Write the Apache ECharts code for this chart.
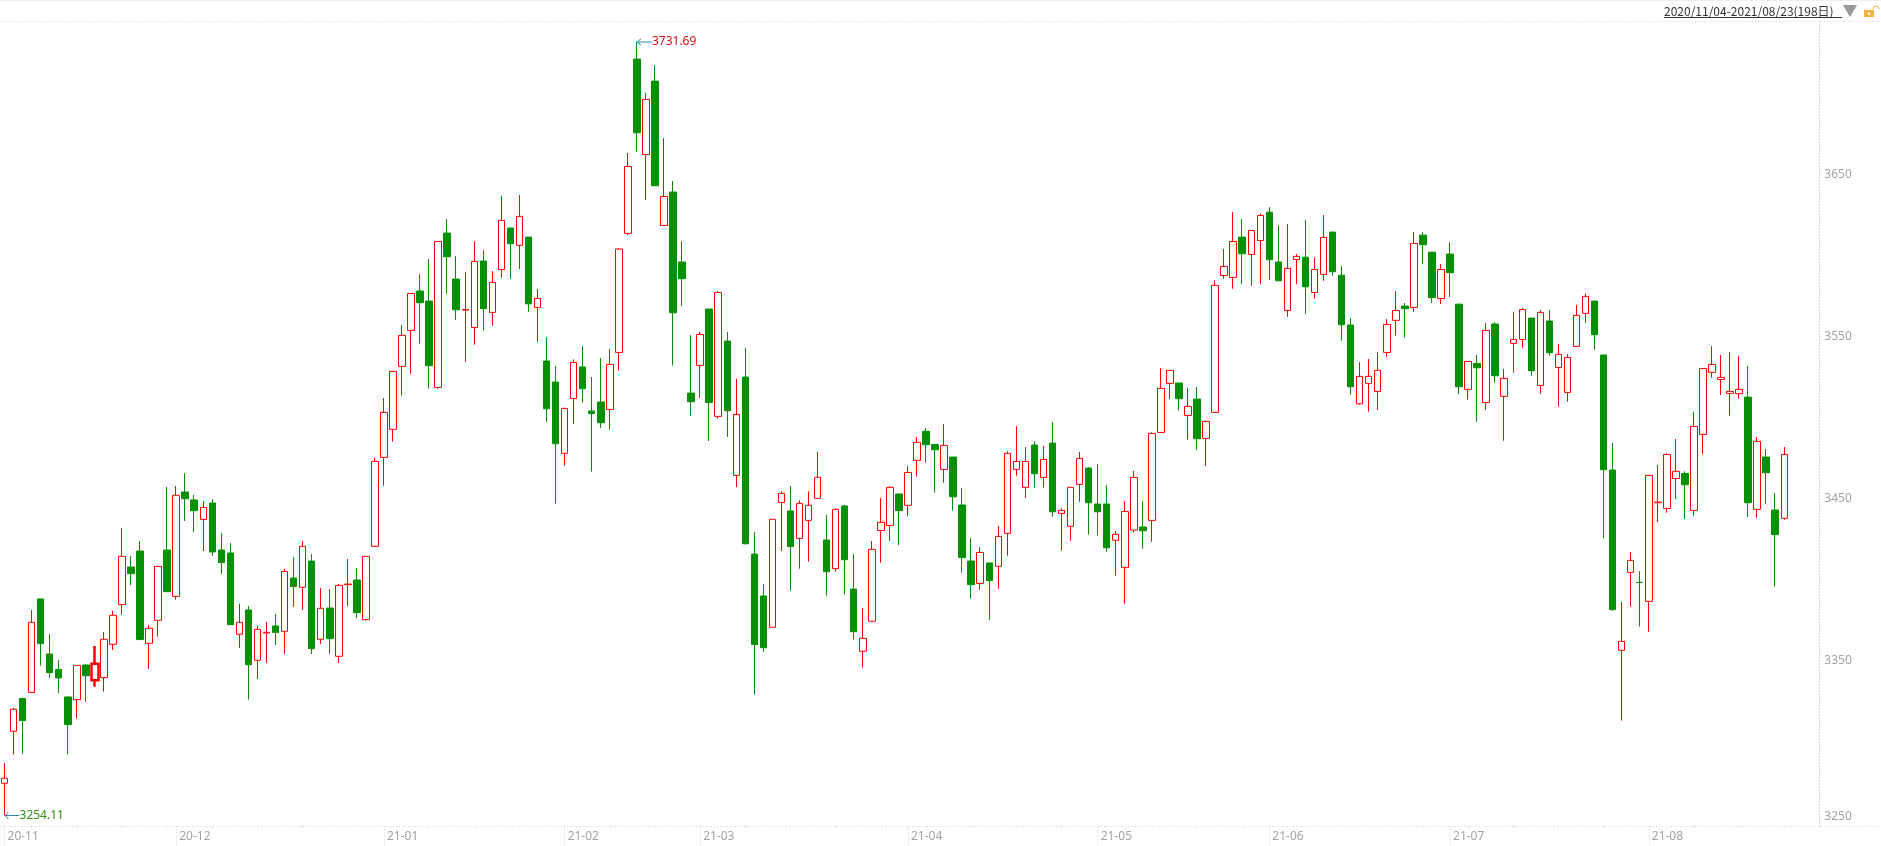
<!DOCTYPE html>
<html>
<head>
<meta charset="utf-8">
<style>html,body{margin:0;padding:0;background:#fff}#c{width:1881px;height:846px}</style>
<script src="https://cdn.jsdelivr.net/npm/echarts@6/dist/echarts.min.js"></script>
</head>
<body>
<div id="c"></div>
<script>
const opens = [
3274,3306.1,3326.4,3330.1,3387.8,3353.8,3344.3,3327.3,3325.6,3347,
3337.6,3339.2,3359.8,3384.3,3407.5,3417.4,3360.4,3374.6,3418,3389.4,
3453.8,3448.9,3436.9,3447,3418,3416.2,3366,3381,3349.9,3366.8,
3371.1,3367.8,3400.7,3395,3411.2,3362.9,3382.2,3352.4,3396.6,3399.5,
3375,3420.3,3475.2,3492.5,3531.4,3553.6,3577.9,3571.7,3518.4,3613.7,
3585.3,3566.1,3555.4,3596.4,3564.7,3591.2,3616.8,3606.1,3611.2,3567.8,
3534.7,3521.7,3477.7,3511.6,3531,3503.8,3509.4,3504.8,3540,3613.5,
3721.1,3662.2,3707.5,3618.4,3639,3595.8,3514.9,3532,3566.8,3500.5,
3547,3464.1,3524.8,3415.5,3389.6,3370.3,3447.4,3442.1,3425.2,3436.3,
3449.9,3424.2,3406.5,3445.2,3393.9,3355.5,3374,3430.1,3433.2,3452.6,
3445.6,3473.4,3491.3,3483.2,3467.8,3475.4,3445.8,3411.2,3397.4,3410,
3407.9,3428.3,3467.8,3456.7,3482.8,3462.8,3484,3440.6,3432.6,3458.5,
3468.6,3446.4,3446.4,3424,3407.3,3430.3,3432.2,3436.3,3490.6,3520.9,
3521.1,3501.1,3511.2,3486.9,3503,3587.5,3586.3,3611.2,3600.5,3609.1,
3626.6,3595.8,3565.9,3597.4,3598.8,3577,3588.2,3614.3,3587.7,3556.9,
3508.3,3520.9,3515.9,3540,3559.8,3568.6,3567.8,3612.4,3601.9,3573.3,
3600.7,3569.8,3517.2,3533.2,3509.1,3557.5,3512.9,3545.6,3548,3561.2,
3519.6,3559.4,3530.7,3515.3,3543.7,3564.1,3571.7,3538.4,3467.4,3356.1,
3404.2,3398,3386.3,3447.2,3443.7,3462.2,3465.3,3442.5,3489.4,3527.7,
3523.3,3514.7,3514.5,3512.4,3443.1,3475.4,3442.7,3437.6];
const closes = [
3277.1,3319.7,3312.7,3373.4,3360.2,3342.3,3339,3310.2,3346.8,3340.4,
3347.8,3362.9,3377.7,3414.1,3403.4,3362.7,3369.7,3407.9,3392.3,3451.8,
3449.7,3442.3,3444.3,3416.8,3410.2,3371.9,3373.4,3347.2,3369,3367.2,
3367,3404.8,3395.4,3420.3,3357.1,3382,3363.3,3396.2,3397,3379.3,
3414.1,3472.7,3503,3528.3,3550.5,3576.4,3570.7,3531.8,3608.5,3599.1,
3566.3,3566.5,3596.2,3567,3583.2,3621.5,3607.1,3624,3570,3573.3,
3505.2,3483.6,3505.4,3533.8,3517.6,3502.2,3496.6,3532.6,3603.8,3654.8,
3675.6,3696.2,3642.9,3636.3,3564.5,3585.5,3509.6,3551.1,3509,3577,
3504,3501.7,3421.9,3359.6,3357.7,3437,3453,3420.1,3446.8,3445.6,
3462.9,3404.6,3443.1,3412,3367.6,3363.5,3418.4,3435.1,3456.7,3442.3,
3465.9,3484.5,3483,3479.9,3482.6,3450.9,3413.3,3396.6,3416.5,3399.1,
3426.4,3477.7,3472.7,3472.7,3465.1,3473.9,3441.6,3442.5,3456.7,3474.6,
3447.2,3441.6,3419.4,3427.7,3441.8,3462.8,3429.9,3490,3517.8,3528.9,
3511.4,3506.7,3486.7,3497.4,3581.4,3593.1,3608.5,3600.9,3615.3,3624.6,
3597.2,3584.2,3591.9,3599.3,3580.5,3591.2,3611,3589.8,3557.1,3518.8,
3525.2,3525.2,3528.9,3557.3,3565.9,3567,3607.3,3606.5,3573.8,3591.2,
3589.2,3518.8,3534.4,3530.5,3553.6,3525.6,3524,3548,3566.5,3528.7,
3564.7,3539.8,3538.8,3536.9,3562.9,3574.6,3550.9,3467.6,3381.2,3361.6,
3411.6,3397.9,3464.1,3447.6,3477,3466.6,3458.3,3494.3,3530.1,3532.6,
3524.6,3515.9,3517.2,3447.2,3485.1,3465.7,3427.5,3477];
const lows = [
3254.11,3291.7,3292.3,3330.1,3346.6,3339,3329.7,3291.7,3313.9,3324.4,
3333.6,3330.6,3356.3,3378.1,3396.4,3362.7,3344.6,3364.5,3392.3,3387.3,
3435.9,3429.1,3417.4,3414.3,3403.2,3371.9,3357.5,3325.6,3338.4,3348.2,
3359.4,3353.8,3382.8,3381,3353.8,3360,3353.8,3348.2,3383.4,3376,
3374.4,3420.3,3457.7,3484.9,3513.3,3526.8,3545.4,3517.6,3517.6,3576.2,
3560,3534.3,3544.7,3553.4,3556.5,3586.1,3585.3,3591.5,3564.9,3546.4,
3497,3446.6,3470.1,3495.8,3509,3466.4,3493.3,3492.3,3528.7,3612.4,
3663.9,3634.2,3642.9,3618.4,3531.8,3568.8,3500.9,3512,3485.3,3499.1,
3487.8,3456.9,3421.3,3328.7,3355.2,3370.3,3417.4,3392.9,3406.5,3410.8,
3449.9,3389.8,3404.6,3390.4,3362.7,3345.4,3374,3410.2,3423.6,3421.1,
3439,3463.3,3471.9,3453.4,3459.6,3442.3,3404,3388,3393.5,3374.8,
3394.1,3414.5,3463.9,3450.3,3456.5,3456.5,3438.6,3417.6,3423.7,3447.8,
3427.5,3426.8,3416.9,3402.1,3384.9,3428.7,3418.8,3423.1,3490.6,3511.4,
3504,3486.1,3479.9,3470,3503,3585.5,3579.3,3582.2,3581.2,3582.2,
3584.7,3584.2,3562,3582.2,3563.9,3573.1,3584.2,3587.3,3547.2,3513.9,
3507.7,3503.4,3504.6,3537.3,3550.3,3549.1,3565.1,3594.5,3570.5,3569.8,
3574.2,3514.3,3510.8,3497.2,3504.6,3521.3,3485.5,3527.5,3542.9,3525.6,
3514.5,3538,3506.5,3509.6,3543.7,3558.3,3541.7,3425,3380.6,3312.7,
3383,3370.7,3367.6,3435.3,3441,3449.5,3437.1,3439.2,3477.3,3524.4,
3513.7,3500.9,3511.4,3438.4,3437.8,3446.4,3395.4,3436.7];
const highs = [
3286.5,3320.5,3326.4,3381,3387.8,3366.2,3350.1,3327.3,3346.8,3347.6,
3358.7,3367.4,3380.4,3431.6,3414.3,3423.6,3371.7,3407.9,3456.9,3457.5,
3465.5,3452,3448.3,3449.5,3428.5,3422.3,3384.7,3383.4,3371.1,3373.6,
3378.5,3406.3,3413.7,3423.6,3415.5,3394.5,3393.9,3397,3412.4,3406.9,
3414.1,3474.8,3511.8,3528.3,3556.9,3576.4,3588.4,3597.6,3608.5,3622.3,
3599.5,3589.6,3608.7,3603.2,3590.2,3636.5,3616.8,3637.1,3611.2,3579.1,
3549.5,3531.6,3506,3535.7,3543.9,3524.8,3536.5,3542.1,3604.4,3663.1,
3731.69,3700.1,3717.4,3672.3,3645.8,3608.7,3550.7,3552.6,3566.8,3577.9,
3552.6,3523.6,3542.7,3429.1,3397,3437,3454.2,3457.5,3448.7,3454.2,
3478.5,3439.6,3443.9,3445.8,3415.5,3382.2,3423.6,3450.1,3457.3,3452.6,
3469.9,3487.8,3493.3,3483.2,3495.8,3475.4,3456.3,3425.4,3419.8,3410,
3432.8,3478.9,3494.5,3481.6,3485.3,3482.2,3497,3443.7,3456.7,3478.5,
3469.2,3471.1,3458.1,3429.7,3448.2,3466.8,3448.2,3490.6,3530.3,3528.9,
3521.1,3518,3518.6,3498,3584.4,3603.8,3626.6,3622.3,3615.3,3625.8,
3629.7,3618.6,3619.2,3600.7,3621.7,3598.8,3624.8,3614.3,3593.3,3561.2,
3534,3535.9,3540.2,3560.6,3577.9,3570.5,3614.3,3614.3,3601.9,3594.5,
3608.1,3569.8,3534.4,3538.4,3558.1,3558.7,3529.7,3564.9,3567.4,3561.2,
3566.1,3566.1,3545.2,3539,3569.2,3576.4,3571.7,3538.4,3484.1,3385.9,
3416.8,3405,3464.1,3470.5,3477.7,3486.5,3466.6,3503.2,3530.1,3543.9,
3538.4,3540.2,3537.7,3531.6,3487.8,3480.4,3453.2,3481.6];
const monthStarts = [0,19,42,62,77,100,121,140,160,182];
const monthLabels = ['20-11','20-12','21-01','21-02','21-03','21-04','21-05','21-06','21-07','21-08'];
const minorTicks = [3,8,13,18,23,28,33,38,47,52,57,62,67,72,77,82,87,92,97,102,107,112,117,122,127,132,137,142,147,152,157,162,167,172,177,182,187,192,197];
const yTicks = [3250,3350,3450,3550,3650];
const minLabel = {value:3254.11, index:0};
const maxLabel = {value:3731.69, index:70};
const rangeText = '2020/11/04-2021/08/23(198日)';

const RED='#ff0000', GREEN='#059005', FONT='"Noto Sans",sans-serif', GRAY='#a3a3a3', DOT='#d4d4d4', DASH=[1,2];
const categories = opens.map((_,i)=>String(i));
const kdata = opens.map((o,i)=>{
  const value=[o,closes[i],lows[i],highs[i]];
  return i===10 ? {value,itemStyle:{borderWidth:2.5}} : value;
});
const arrow='path://M0 3.5L3.5 0L4.2 .7L1.5 3H15V4H1.5L4.2 6.3L3.5 7Z';
const chart=echarts.init(document.getElementById('c'),null,{renderer:'canvas'});
const hline=(y,c)=>({type:'line',silent:true,shape:{x1:0,y1:y,x2:1881,y2:y},style:{stroke:c,lineWidth:1,lineDash:DASH}});
chart.setOption({
  animation:false,
  backgroundColor:'#fff',
  grid:{left:0,right:92.2,top:21.5,bottom:19.5},
  xAxis:[{
    type:'category',data:categories,position:'bottom',
    axisLine:{show:false},
    axisTick:{show:true,alignWithLabel:true,length:19,interval:i=>monthStarts.includes(i),lineStyle:{color:DOT,type:DASH}},
    axisLabel:{show:true,interval:i=>monthStarts.includes(i),formatter:(v,i)=>monthLabels[monthStarts.indexOf(i)]||'',
      align:'left',padding:[0,0,0,3],margin:4,color:GRAY,fontFamily:FONT,fontSize:12},
    splitLine:{show:false}
  },{
    type:'category',data:categories,position:'bottom',
    axisLine:{show:false},
    axisTick:{show:true,alignWithLabel:true,length:3,interval:i=>minorTicks.includes(i),lineStyle:{color:DOT,type:DASH}},
    axisLabel:{show:false},splitLine:{show:false}
  }],
  yAxis:{
    type:'value',position:'right',offset:30.5,min:3247.3,max:3744.3,scale:true,
    axisLine:{show:true,lineStyle:{color:DOT,type:DASH}},
    axisTick:{show:true,length:3,customValues:yTicks,lineStyle:{color:DOT,type:DASH}},
    axisLabel:{show:true,customValues:yTicks,margin:5,color:GRAY,fontFamily:FONT,fontSize:12,
      formatter:v=>v===yTicks[0]?'{low|'+v+'}':'{n|'+v+'}',
      rich:{low:{padding:[0,0,12,0],color:GRAY,fontFamily:FONT,fontSize:12},n:{color:GRAY,fontFamily:FONT,fontSize:12}}},
    splitLine:{show:false}
  },
  series:[{
    type:'candlestick',xAxisIndex:0,yAxisIndex:0,data:kdata,barWidth:7,clip:false,
    itemStyle:{color:'#ffffff',color0:GREEN,borderColor:RED,borderColor0:GREEN,borderWidth:1,borderJoin:'miter'},
    markPoint:{
      silent:true,symbol:arrow,symbolSize:[15,7],symbolOffset:[7.5,0],
      itemStyle:{color:'#2f86aa'},
      data:[
        {coord:[minLabel.index,minLabel.value],value:minLabel.value,label:{color:'#2f8f10'}},
        {coord:[maxLabel.index,maxLabel.value],value:maxLabel.value,label:{color:'#d01010'}}
      ],
      label:{show:true,position:'right',distance:0,fontFamily:FONT,fontSize:12,formatter:p=>p.value.toFixed(2)}
    }
  }],
  graphic:[
    {type:'rect',silent:true,shape:{x:0,y:0,width:1881,height:1},style:{fill:'#efefef'}},
    hline(21.5,DOT),hline(826.5,DOT),
    {type:'text',silent:true,x:1664,y:11.5,style:{text:rangeText,fill:'#333',font:'12px "Noto Sans CJK SC","Noto Sans",sans-serif',verticalAlign:'middle'}},
    {type:'line',silent:true,shape:{x1:1664,y1:17.5,x2:1842,y2:17.5},style:{stroke:'#333',lineWidth:1}},
    {type:'polygon',silent:true,shape:{points:[[1843,5],[1857,5],[1850,17]]},style:{fill:'#999'}},
    {type:'rect',silent:true,shape:{x:1864,y:10,width:10,height:7},style:{fill:'#f2b544'}},
    {type:'rect',silent:true,shape:{x:1868,y:12.5,width:2,height:2.5},style:{fill:'#fff'}},
    {type:'arc',silent:true,shape:{cx:1876,cy:9,r:3,startAngle:Math.PI,endAngle:Math.PI*2.05,clockwise:true},style:{stroke:'#f2b544',fill:'none',lineWidth:1}}
  ]
});
</script>
</body>
</html>
